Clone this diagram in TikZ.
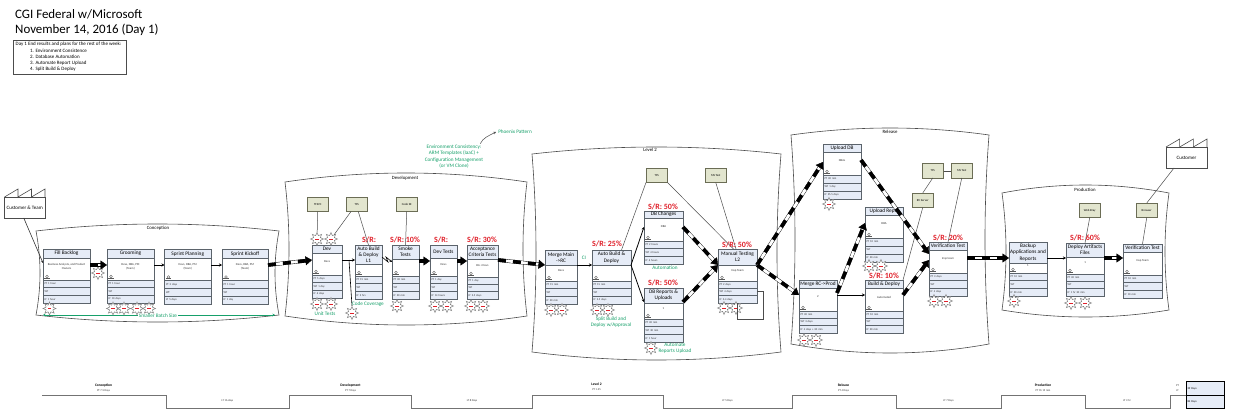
\documentclass[tikz,border=0pt]{standalone}
\usepackage{fontspec}
\setmainfont{Carlito}
\usetikzlibrary{shapes.geometric,arrows.meta,calc}
\definecolor{boxedge}{HTML}{5B636B}
\definecolor{boxblue}{HTML}{E6ECF7}
\definecolor{dataolive}{HTML}{E2E5CE}
\definecolor{dataedge}{HTML}{6B6D55}
\definecolor{vsmgreen}{HTML}{16A06A}
\definecolor{srred}{HTML}{E0202A}
\tikzset{
  ptitle/.style={draw=boxedge,fill=boxblue,line width=.6pt,inner sep=0pt,outer sep=0pt,align=center,font=\fontsize{5.3}{6.2}\selectfont},
  pbody/.style={draw=boxedge,fill=white,line width=.6pt,inner sep=0pt,outer sep=0pt},
  psub/.style={inner sep=0pt,align=center,font=\fontsize{3}{3.6}\selectfont,text=black!80},
  prow/.style={draw=boxedge,fill=boxblue,line width=.6pt,inner xsep=1.5pt,inner ysep=0pt,outer sep=0pt,align=left,font=\fontsize{2.8}{3}\selectfont,text=black!80,anchor=north west},
  databox/.style={draw=dataedge,fill=dataolive,line width=.6pt,inner sep=0pt,outer sep=0pt,minimum width=21.5pt,minimum height=14.5pt,font=\fontsize{3}{3.6}\selectfont},
  burst/.style={star,star points=8,star point ratio=1.8,draw=black!50,fill=white,line width=.5pt,minimum size=13pt,inner sep=0pt},
  srlabel/.style={text=srred,inner sep=0pt,font=\fontsize{8}{9}\bfseries\selectfont},
  greenlabel/.style={text=vsmgreen,inner sep=0pt,align=center,font=\fontsize{5.2}{6.3}\selectfont},
  cloudlabel/.style={inner sep=0pt,font=\fontsize{4.8}{5.5}\selectfont},
  cloudline/.style={draw=black!70,line width=.6pt},
  thinarrow/.style={black,line width=.8pt,-{Stealth[length=3pt,width=3pt]}},
  infoline/.style={black!70,line width=.5pt},
  timeline/.style={draw=black!55,line width=.8pt},
  tlhead/.style={inner sep=0pt,font=\fontsize{3.6}{4}\bfseries\selectfont},
  tlsmall/.style={inner sep=0pt,font=\fontsize{2.8}{3}\selectfont,text=black!80},
}
\def\parsegeom#1/#2/#3/#4/#5/#6\relax{\def\xa{#1}\def\xb{#2}\def\ya{#3}\def\yb{#4}\def\yc{#5}\def\yd{#6}}
% name, x1/x2/ytop/ytitle/ybody/ybottom, title, sub, PT, WT, LT
\newcommand\procbox[7]{%
  \parsegeom#2\relax
  \pgfmathsetmacro\pw{\xb-\xa}
  \pgfmathsetmacro\rh{(\yd-\yc)/3}
  \pgfmathsetmacro\th{\yb-\ya}
  \pgfmathsetmacro\bh{\yc-\yb}
  \pgfmathsetmacro\tw{\pw-3}
  \pgfmathsetmacro\ra{\yc+\rh}
  \pgfmathsetmacro\rb{\yc+2*\rh}
  \pgfmathsetmacro\ix{\xa+4}
  \pgfmathsetmacro\iy{\yc-3.5}
  \node[ptitle,anchor=north west,minimum width=\pw pt,minimum height=\th pt] (#1-t) at (\xa,\ya) {#3};
  \node[pbody,anchor=north west,minimum width=\pw pt,minimum height=\bh pt] (#1-b) at (\xa,\yb) {};
  \node[psub] (#1-s) at ([yshift=2.5pt]#1-b.center) {#4};
  \node[prow,text width=\tw pt,minimum height=\rh pt] (#1-r1) at (\xa,\yc) {#5};
  \node[prow,text width=\tw pt,minimum height=\rh pt] (#1-r2) at (\xa,\ra) {#6};
  \node[prow,text width=\tw pt,minimum height=\rh pt] (#1-r3) at (\xa,\rb) {#7};
  \draw[black!65,line width=.4pt] (\ix,\iy) circle (1.3pt);
  \draw[black!65,line width=.5pt] ($(\ix,\iy)+(-2.6,1.3)$) -- ($(\ix,\iy)+(2.6,1.3)$);
}
% left, right, top corner y, top apex y, bottom corner y, bottom apex y, side bulge
\newcommand\vsmcloud[7]{%
  \pgfmathsetmacro\cw{(#2-#1)/3}
  \pgfmathsetmacro\cla{#1+\cw}\pgfmathsetmacro\clb{#2-\cw}
  \pgfmathsetmacro\cta{#3+(#4-#3)*4/3}
  \pgfmathsetmacro\cba{#5+(#6-#5)*4/3}
  \pgfmathsetmacro\ch{(#5-#3)/3}
  \pgfmathsetmacro\cya{#3+\ch}\pgfmathsetmacro\cyb{#5-\ch}
  \pgfmathsetmacro\cxl{#1+#7*4/3}\pgfmathsetmacro\cxr{#2-#7*4/3}
  \draw[cloudline] (#1,#3) .. controls (\cla,\cta) and (\clb,\cta) .. (#2,#3)
    .. controls (\cxr,\cya) and (\cxr,\cyb) .. (#2,#5)
    .. controls (\clb,\cba) and (\cla,\cba) .. (#1,#5)
    .. controls (\cxl,\cyb) and (\cxl,\cya) .. cycle;
}
% name, x1, x2, y1, y2, ypeak, text
\newcommand\factory[7]{%
  \pgfmathsetmacro\fw{#3-#2}\pgfmathsetmacro\fh{#5-#4}
  \pgfmathsetmacro\fa{#2+\fw/3}\pgfmathsetmacro\fb{#2+2*\fw/3}
  \node[draw=black!70,fill=white,line width=.6pt,inner sep=0pt,outer sep=0pt,anchor=north west,minimum width=\fw pt,minimum height=\fh pt,font=\fontsize{5}{6}\selectfont] (#1) at (#2,#4) {#7};
  \draw[black!70,line width=.6pt] (#2,#4) -- (\fa,#6) -- (\fa,#4) -- (\fb,#6) -- (\fb,#4) -- (#3,#6) -- (#3,#4);
}
% push arrow between two coordinates
\newcommand\pusharrow[2]{%
  \draw[black,line width=3.6pt,shorten >=5pt] (#1) -- (#2);
  \draw[white,line width=2.8pt,shorten >=5pt] (#1) -- (#2);
  \draw[black,line width=3.6pt,shorten >=5pt,dash pattern=on 8pt off 7pt] (#1) -- (#2);
  \draw[black,line width=.4pt,-{Triangle[length=6.5pt,width=9pt]}] ($(#2)!5pt!(#1)$) -- (#2);
}
\newcommand\pushrl[4]{\pusharrow{#1-b.east |- 0,#2}{#3-b.west |- 0,#4}}
\newcommand\thinrl[4]{\draw[thinarrow] (#1-b.east |- 0,#2) -- (#3-b.west |- 0,#4);}
\begin{document}
\begin{tikzpicture}[x=1pt,y=-1pt]
\useasboundingbox (0,0) rectangle (1235,420);
\fill[white] (0,0) rectangle (1235,420);

% headline and notes
\node[anchor=west,inner sep=0pt,font=\fontsize{12.9}{15}\selectfont] (head1) at (15,14) {CGI Federal w/Microsoft};
\node[anchor=west,inner sep=0pt,font=\fontsize{12.9}{15}\selectfont] (head2) at (15,29.5) {November 14, 2016 (Day 1)};
\node[draw=black!70,line width=.6pt,anchor=north west,minimum width=113pt,minimum height=34pt,inner sep=0pt,outer sep=0pt] (notes) at (13.5,40) {};
\node[anchor=west,inner sep=0pt,font=\fontsize{5}{6}\selectfont] (note0) at (15.5,44.5) {Day 1 End results and plans for the rest of the week:};
\foreach \ny/\nt [count=\ni] in {51/1. Environment Consistence,57/2. Database Automation,63/3. Automate Report Upload,69/4. Split Build \& Deploy}
  \node[anchor=west,inner sep=0pt,font=\fontsize{5}{6}\selectfont] (note\ni) at (30,\ny) {\nt};

% clouds
\vsmcloud{36}{279}{231}{224}{315}{322}{4}
\vsmcloud{285}{527}{182}{173}{316}{325}{4}
\vsmcloud{532}{781}{154}{147}{352}{360}{4}
\vsmcloud{791}{989}{135}{128}{344}{353}{4}
\vsmcloud{1002}{1169}{193}{185}{310}{317}{4}
\node[cloudlabel] (lab1) at (158,228) {Conception};
\node[cloudlabel] (lab2) at (405,178) {Development};
\node[cloudlabel] (lab3) at (650,150) {Level 2};
\node[cloudlabel] (lab4) at (890,132) {Release};
\node[cloudlabel] (lab5) at (1085,190) {Production};

% factories
\factory{custteam}{4.5}{45}{197}{218}{189}{Customer \& Team}
\factory{customer}{1166}{1207}{147}{168}{139}{Customer}

% process boxes
\procbox{fill}{43/90/249/258/280/303}{Fill Backlog}{Business Analysts, and Product\\Owners}{PT 1 hour}{WT}{LT 1 hour}
\procbox{groom}{107/154/249/258/280/303}{Grooming}{Devs, DBA, PM\\(Team)}{PT 1 hour}{WT}{LT 10 days}
\procbox{plan}{164.5/211/249.5/258.5/280.5/304}{Sprint Planning}{Devs, DBA, PM\\(Team)}{PT 3 days}{WT}{LT 5 days}
\procbox{kick}{222/268/249.5/258.5/280.5/304}{Sprint Kickoff}{Devs, DBA, PM\\(Team)}{PT 1 hour}{WT}{LT 1 day}

\procbox{dev}{312/342/245/253/275/298}{Dev}{Devs}{PT 5 days}{WT 1 day}{LT 6 days}
\procbox{autol}{355/382/245/264/276/299}{Auto Build\\\& Deploy\\L1}{}{PT 15 min}{WT}{LT 2 hrs}
\procbox{smoke}{392/419/245/259/276/299}{Smoke\\Tests}{}{PT 30 min}{WT}{LT 30 min}
\procbox{devt}{430/457/245/258/276/299}{Dev Tests}{Devs}{PT 1 day}{WT}{LT 14 hours}
\procbox{accept}{467/498/245/259/277/299}{Acceptance\\Criteria Tests}{BA + Devs}{PT 1 day}{WT}{LT 2.5 days}

\procbox{merge}{545/577/250/265/281/304}{Merge Main\\->RC}{Devs}{PT 15 min}{WT}{LT 30 min}
\procbox{autod}{592/631/250/265/281/304}{Auto Build \&\\Deploy}{}{PT 15 min}{WT}{LT 2.5 days}
\procbox{dbch}{644/683/211/218/241/264}{DB Changes}{DBA}{PT 2 hours}{WT 4 hours}{LT 6 hours}
\procbox{dbrep}{644/683/288/303/319/342}{DB Reports \&\\Uploads}{1}{PT 30 min}{WT 30 min}{LT 1 hour}
\procbox{manual}{718/757/249/265/281/303}{Manual Testing\\L2}{Insp Team}{PT 2 days}{WT 4 days}{LT 3-4 days}

\procbox{updb}{823/861/144/152/175/199}{Upload DB}{DBAs}{PT 30 min}{WT 1 day}{LT 35.5 days}
\procbox{uprep}{865/903/207/215/238/262}{Upload Repts}{DBA}{PT 10 min}{WT}{LT 30 min}
\procbox{mergerc}{799/837/280/288/311/333}{Merge RC->Prod}{2}{PT 30 min}{WT 3 days}{LT 4 days + 30 min}
\procbox{build}{865/903/280/288/311/333}{Build \& Deploy}{Automated}{PT 10 min}{WT}{LT 30 min}
\procbox{verif}{929/967/242/250/273/296}{Verification Test}{Insp team}{PT 3 days}{WT}{LT 4 days}

\procbox{backup}{1009/1047/242/263/273/296}{Backup\\Applications and\\Reports}{1}{PT 10 min}{WT}{LT 30 min}
\procbox{deploy}{1066/1104/243/257/274/296}{Deploy Artifacts\\Files}{1}{PT 30 min}{WT}{LT 1 hr 30 min}
\procbox{verifp}{1123/1162/244/252/275/298}{Verification Test}{Insp Team}{PT 10 min}{WT}{LT 10 min}

% data boxes
\node[databox,anchor=north west] (tfsvc) at (307,197) {TFSVC};
\node[databox,anchor=north west] (tfsa) at (346,197) {TFS};
\node[databox,anchor=north west] (codese) at (396,197) {Code SE};
\node[databox,anchor=north west] (tfsb) at (646,168) {TFS};
\node[databox,anchor=north west] (mstesta) at (705,168) {MS Test};
\node[databox,anchor=north west] (tfsc) at (922,163.5) {TFS};
\node[databox,anchor=north west] (mstestb) at (951,163.5) {MS Test};
\node[databox,anchor=north west] (bvserver) at (912,193) {BV Server};
\node[databox,anchor=north west] (webbray) at (1079,203) {Web Bray};
\node[databox,anchor=north west] (browser) at (1136,203) {Browser};

% batch-size arrow, under the bursts
\coordinate (batchl) at (43,315);
\coordinate (batchr) at (275,315);
\draw[vsmgreen,line width=.8pt,{Stealth[length=2.5pt,width=2.5pt]}-{Stealth[length=2.5pt,width=2.5pt]}] (batchl) -- (batchr);

% kaizen bursts
\newcommand\kaizen[3]{\node[burst] (#1) at (#2,#3) {\textcolor{srred}{\rule{3.5pt}{.9pt}}};}
\foreach \kx/\ky [count=\ki] in {98/273,49.5/308.5,113/308.5,124/308.5,137/308.5,149/308.5,
  317/304,331/304,397/306,435/306,447/306,471/306,483/306,
  551/310,562/310,597/310,608/310,651/348,724/308,736/308,
  829/204,869/266,881/266,804/340,816/340,934/301,946/301,
  1014/301,1071/303,1085/303}{\kaizen{kz\ki}{\kx}{\ky}}
\kaizen{kzta}{317}{239}
\kaizen{kztb}{331}{239}
\kaizen{kzcc}{352}{313}

% information lines
\draw[infoline] (tfsvc.south) -- (kzta);
\draw[infoline] (tfsa.south west) ++(5,0) -- (kztb);
\draw[infoline] ([xshift=1.5pt]tfsa.south) -- (autol-t.north);
\draw[infoline] (codese.south) -- (smoke-t.north);
\draw[infoline] (tfsb.south west) -- ([xshift=10pt]autod-t.north);
\draw[infoline] (tfsb.south east) -- ([xshift=-4pt]manual-t.north);
\draw[infoline] (mstesta.south) -- ([xshift=-1.5pt]manual-t.north);
\draw[infoline] (tfsc.east) -- (mstestb.west);
\draw[infoline] (tfsc.south) -- (bvserver.north);
\draw[infoline] (bvserver.south) -- (build-t.north east);
\draw[infoline] (mstestb.south) -- (verif-t.north);
\draw[infoline] (webbray.south) -- (deploy-t.north);
\draw[infoline] (browser.south) -- (verifp-t.north);
\draw[infoline] ([xshift=8pt]customer.south west) -- (browser.north);
\draw[black!80,line width=.6pt,-{Stealth[length=2.5pt,width=2.5pt]}] ([xshift=-1pt]custteam.south) -- (fill-b.west |- 0,263);

% connectors
\pushrl{fill}{265}{groom}{265}
\thinrl{groom}{265}{plan}{265}
\thinrl{plan}{265}{kick}{265}
\pushrl{kick}{265}{dev}{260}
\thinrl{dev}{260}{autol}{260}
\coordinate (ccj) at (349,260);
\draw[black,line width=.6pt] (ccj) -- (kzcc.north);
\draw[black,line width=.6pt,-{Stealth[length=2.5pt,width=2.5pt]}] (autol-b.east |- 0,257) -- ++(6,5) -- ++(-2,-5) -- (smoke-b.west |- 0,262);
\pushrl{smoke}{261}{devt}{261}
\pushrl{devt}{261}{accept}{261}
\pushrl{accept}{260}{merge}{265}
\thinrl{merge}{265}{autod}{265}
\thinrl{autod}{265}{dbch}{227}
\thinrl{autod}{265}{dbrep}{302}
\pushrl{dbch}{227}{manual}{265}
\pushrl{dbrep}{302}{manual}{265}
\pushrl{manual}{265}{updb}{162}
\pushrl{manual}{265}{mergerc}{295}
\pushrl{mergerc}{293}{uprep}{223}
\thinrl{mergerc}{295}{build}{295}
\pushrl{updb}{160}{verif}{254}
\pushrl{build}{295}{verif}{260}
\pushrl{verif}{258}{backup}{258}
\thinrl{backup}{258}{deploy}{258}
\pushrl{deploy}{258}{verifp}{258}
\draw[black!70,line width=.5pt] (manual-b.east |- 0,291) -- ++(6,0) -- ++(0,28) -- ++(-26,0) -- ++(0,-16);

% S/R labels
\node[srlabel] (sr1) at (369,240) {S/R:};
\node[srlabel] (sr2) at (405,240) {S/R: 10\%};
\node[srlabel] (sr3) at (441,239.5) {S/R:};
\node[srlabel] (sr4) at (482,240) {S/R: 30\%};
\node[srlabel] (sr5) at (607,244) {S/R: 25\%};
\node[srlabel] (sr6) at (663,206.5) {S/R: 50\%};
\node[srlabel] (sr7) at (663,283) {S/R: 50\%};
\node[srlabel] (sr8) at (737,245) {S/R: 50\%};
\node[srlabel] (sr9) at (884,275.5) {S/R: 10\%};
\node[srlabel] (sr10) at (948,237.5) {S/R: 20\%};
\node[srlabel] (sr11) at (1085,238) {S/R: 60\%};

% green notes
\node[greenlabel,fill=white,inner xsep=.6pt] (batch) at (158,316) {Smaller Batch Size};
\node[greenlabel] (unit) at (325,314) {Unit Tests};
\node[greenlabel] (cover) at (368,304) {Code Coverage};
\node[greenlabel] (phoenix) at (515,132) {Phoenix Pattern};
\node[greenlabel] (env) at (454,156.5) {Environment Consistency:\\ARM Templates (IaaC) +\\Configuration Management\\(or VM Clone)};
\draw[black!70,line width=.5pt,-{Stealth[length=2.5pt,width=2.5pt]}] ([xshift=-3pt,yshift=1pt]env.north east) .. controls (483,138) and (488,136) .. ([xshift=-2pt]phoenix.west);
\node[greenlabel] (ci) at (584,258) {CI};
\node[greenlabel] (split) at (611,322) {Split Build and\\Deploy w/Approval};
\node[greenlabel] (autom) at (665,267.5) {Automation};
\node[greenlabel] (autorep) at (675,348) {Automate\\Reports Upload};

% timeline
\draw[timeline] (42,395) -- (166,395) -- (166,408) -- (289.5,408) -- (289.5,395) -- (411,395) -- (411,408) -- (532.5,408) -- (532.5,395) -- (663,395) -- (663,408) -- (792.5,408) -- (792.5,395) -- (896,395) -- (896,408) -- (1001,408) -- (1001,395) -- (1085.5,395) -- (1085.5,408) -- (1170,408) -- (1170,395) -- (1186,395);
\node[tlhead] (tl1) at (103.5,385.5) {Conception};
\node[tlsmall] (tl1p) at (103.5,391) {PT 7.5 Days};
\node[tlsmall] (tl1l) at (227.5,401) {LT 16 days};
\node[tlhead] (tl2) at (350.5,385.5) {Development};
\node[tlsmall] (tl2p) at (350.5,391) {PT 7 Days};
\node[tlsmall] (tl2l) at (472,401) {LT 8 Days};
\node[tlhead] (tl3) at (596.5,384.5) {Level 2};
\node[tlsmall] (tl3p) at (596.5,390) {PT 1.25};
\node[tlsmall] (tl3l) at (727.5,400.5) {LT 5 Days};
\node[tlhead] (tl4) at (843.5,385.5) {Release};
\node[tlsmall] (tl4p) at (843.5,391) {PT 4 Days};
\node[tlsmall] (tl4l) at (948.5,401) {LT 7 Days};
\node[tlhead] (tl5) at (1043,385.5) {Production};
\node[tlsmall] (tl5p) at (1043,391) {PT 1h 15 min};
\node[tlsmall] (tl5l) at (1127,401) {LT 3 hr};
\node[tlsmall] (tlpt) at (1177.5,386) {PT};
\node[tlsmall] (tllt) at (1177.5,391) {LT};
\node[draw=black,fill=boxblue,line width=.9pt,anchor=north west,minimum width=38.5pt,minimum height=13.5pt,inner sep=1.5pt,outer sep=0pt,text width=35.5pt,font=\fontsize{2.8}{3}\selectfont] (sumpt) at (1186,381.6) {39 Days};
\node[draw=black,fill=boxblue,line width=.9pt,anchor=north west,minimum width=38.5pt,minimum height=13.5pt,inner sep=1.5pt,outer sep=0pt,text width=35.5pt,font=\fontsize{2.8}{3}\selectfont] (sumlt) at (1186,395.1) {84 Days};
\end{tikzpicture}
\end{document}
